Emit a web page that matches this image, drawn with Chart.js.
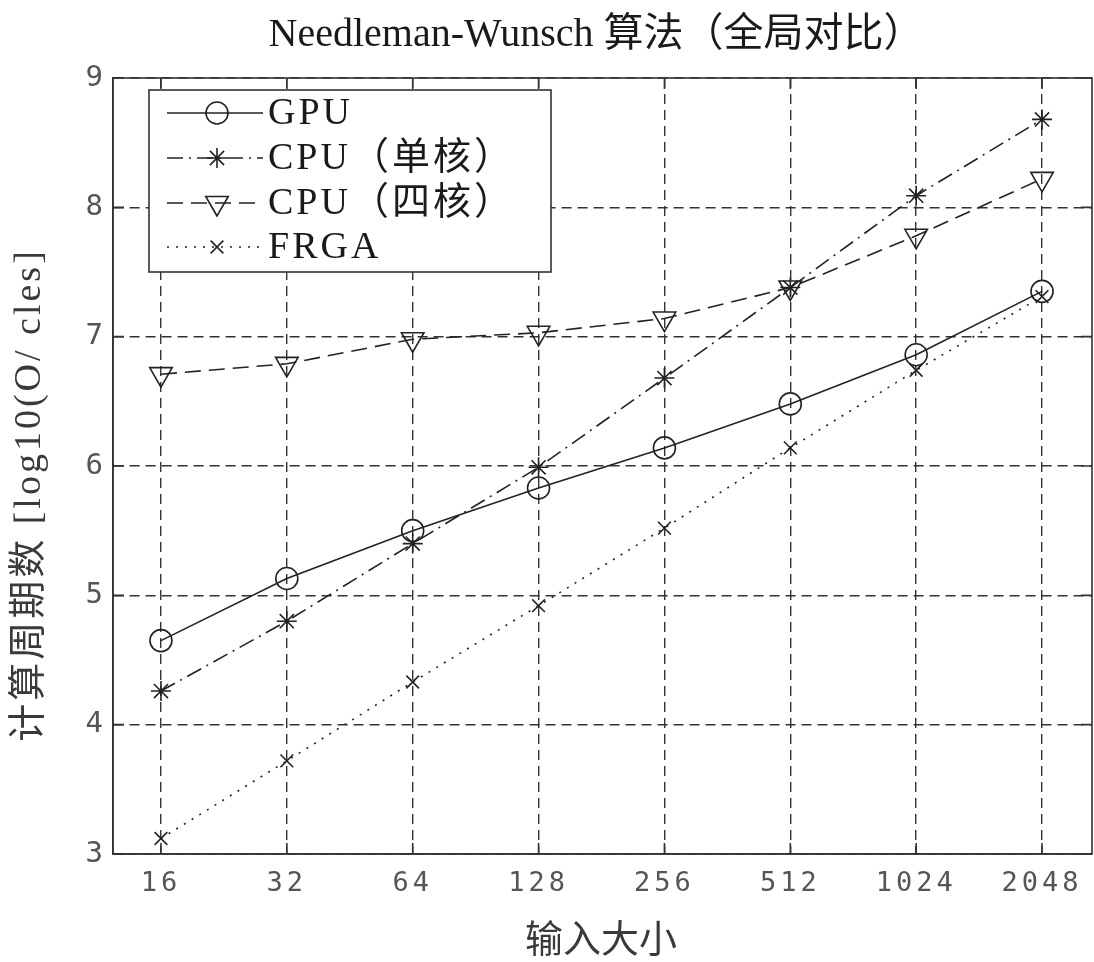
<!DOCTYPE html>
<html>
<head>
<meta charset="utf-8">
<script src="https://cdn.jsdelivr.net/npm/chart.js@4/dist/chart.umd.min.js"></script>
<style>
  html, body { margin: 0; padding: 0; background: #fff; overflow: hidden; }
  #c { display: block; }
</style>
</head>
<body>
<canvas id="c" width="1094" height="962"></canvas>
<script>
// ---- data ----
const categories = ['16', '32', '64', '128', '256', '512', '1024', '2048'];
const gpu      = [4.65, 5.13, 5.50, 5.83, 6.14, 6.48, 6.86, 7.35];
const cpuSingle = [4.26, 4.80, 5.40, 5.99, 6.68, 7.38, 8.09, 8.68];
const cpuQuad  = [6.71, 6.79, 6.98, 7.03, 7.14, 7.38, 7.78, 8.22];
const frga     = [3.12, 3.72, 4.33, 4.92, 5.52, 6.14, 6.74, 7.31];
const seriesNames = ['GPU', 'CPU（单核）', 'CPU（四核）', 'FRGA'];
const yTicks = [3, 4, 5, 6, 7, 8, 9];
const titleText = 'Needleman-Wunsch 算法（全局对比）';
const xTitle = '输入大小';
const yTitle = '计算周期数 [log10(O/ cles]';

const INK = '#222';
const toXY = arr => arr.map((v, i) => ({ x: i, y: v }));

const styles = [
  { pointStyle: 'circle', radius: 11, dash: [], rotation: 0 },
  { pointStyle: 'star', radius: 10, dash: [16, 6, 2, 6], rotation: 0 },
  { pointStyle: 'triangle', radius: 13, dash: [16, 8], rotation: 180 },
  { pointStyle: 'crossRot', radius: 9, dash: [2, 7], rotation: 0 }
];
const seriesData = [gpu, cpuSingle, cpuQuad, frga];

const datasets = seriesData.map((d, i) => ({
  label: seriesNames[i],
  data: toXY(d),
  borderColor: INK,
  backgroundColor: 'rgba(0,0,0,0)',
  borderWidth: 1.6,
  borderDash: styles[i].dash,
  pointStyle: styles[i].pointStyle,
  pointRadius: styles[i].radius,
  pointRotation: styles[i].rotation,
  pointBorderWidth: 1.6,
  pointBorderColor: INK,
  pointBackgroundColor: 'rgba(0,0,0,0)',
  tension: 0
}));

const noPad = () => ({ left: 0, top: 0, right: 0, bottom: 0 });

const decor = {
  id: 'decor',
  beforeDraw(chart) {
    chart.ctx.letterSpacing = '4px';
  },
  beforeDatasetsDraw(chart) {
    chart.ctx.letterSpacing = '0px';
  },
  afterDraw(chart) {
    const ctx = chart.ctx;
    const a = chart.chartArea;
    const xs = chart.scales.x, ys = chart.scales.y;
    ctx.save();
    ctx.letterSpacing = '0px';
    // frame
    ctx.strokeStyle = '#333';
    ctx.lineWidth = 1.6;
    ctx.setLineDash([]);
    ctx.strokeRect(a.left, a.top, a.right - a.left, a.bottom - a.top);
    // inward ticks
    const tl = 11;
    ctx.beginPath();
    for (let i = 0; i < categories.length; i++) {
      const x = xs.getPixelForValue(i);
      ctx.moveTo(x, a.bottom); ctx.lineTo(x, a.bottom - tl);
      ctx.moveTo(x, a.top); ctx.lineTo(x, a.top + tl);
    }
    for (const v of yTicks) {
      const y = ys.getPixelForValue(v);
      ctx.moveTo(a.left, y); ctx.lineTo(a.left + tl, y);
      ctx.moveTo(a.right, y); ctx.lineTo(a.right - tl, y);
    }
    ctx.stroke();

    // title
    ctx.fillStyle = '#1a1a1a';
    ctx.font = "40px 'Liberation Serif', 'Noto Sans CJK SC'";
    ctx.textAlign = 'center';
    ctx.textBaseline = 'alphabetic';
    ctx.fillText(titleText, 596, 46);

    // x title
    ctx.fillStyle = '#3a3a3a';
    ctx.font = "38px 'Noto Sans CJK SC'";
    ctx.textBaseline = 'middle';
    ctx.fillText(xTitle, 601, 938);

    // y title
    ctx.save();
    ctx.translate(30, 495);
    ctx.rotate(-Math.PI / 2);
    ctx.letterSpacing = '3px';
    ctx.font = "38px 'Liberation Serif', 'Noto Sans CJK SC'";
    ctx.fillText(yTitle, 0, 0);
    ctx.restore();

    // legend
    const lx = 149, ly = 90, lw = 402, lh = 182;
    ctx.fillStyle = '#fff';
    ctx.fillRect(lx, ly, lw, lh);
    ctx.strokeStyle = '#333';
    ctx.lineWidth = 1.6;
    ctx.strokeRect(lx, ly, lw, lh);
    const rowY = [113, 158, 203, 247];
    chart.data.datasets.forEach((ds, i) => {
      const y = rowY[i];
      ctx.save();
      ctx.strokeStyle = INK;
      ctx.fillStyle = 'rgba(0,0,0,0)';
      ctx.lineWidth = 1.6;
      ctx.setLineDash(ds.borderDash);
      ctx.beginPath();
      ctx.moveTo(167, y); ctx.lineTo(263, y);
      ctx.stroke();
      ctx.setLineDash([]);
      if (Chart.helpers && Chart.helpers.drawPoint) {
        Chart.helpers.drawPoint(ctx, {
          pointStyle: ds.pointStyle, radius: ds.pointRadius,
          rotation: ds.pointRotation, borderWidth: 1.6
        }, 217, y);
      }
      ctx.restore();
      ctx.save();
      ctx.letterSpacing = '3px';
      ctx.fillStyle = '#1a1a1a';
      ctx.font = "38px 'Liberation Serif', 'Noto Sans CJK SC'";
      ctx.textAlign = 'left';
      ctx.textBaseline = 'middle';
      ctx.fillText(ds.label, 268, y + 1);
      ctx.restore();
    });
    ctx.restore();
  }
};

new Chart(document.getElementById('c'), {
  type: 'line',
  data: { datasets },
  options: {
    responsive: false,
    animation: false,
    layout: { autoPadding: false, padding: { top: 78, right: 2, left: 0, bottom: 0 } },
    plugins: { legend: { display: false }, tooltip: { enabled: false }, title: { display: false } },
    scales: {
      x: {
        type: 'linear',
        min: -0.381,
        max: 7.397,
        afterBuildTicks(scale) { scale.ticks = categories.map((c, i) => ({ value: i })); },
        afterFit(scale) {
          scale.height = 108;
          scale.paddingLeft = 0; scale.paddingRight = 0;
          scale.getPadding = noPad;
        },
        ticks: {
          autoSkip: false, maxRotation: 0, minRotation: 0,
          padding: 14,
          color: '#555',
          font: { family: "'DejaVu Sans Mono'", size: 27 },
          callback: (v) => categories[v]
        },
        grid: { color: '#333', lineWidth: 1.4, drawTicks: false },
        border: { display: true, color: '#333', width: 1.6, dash: [10, 6] }
      },
      y: {
        min: 3, max: 9,
        afterBuildTicks(scale) { scale.ticks = yTicks.map(v => ({ value: v })); },
        afterFit(scale) {
          scale.width = 113;
          scale.paddingTop = 0; scale.paddingBottom = 0;
          scale.getPadding = noPad;
        },
        ticks: {
          padding: 6,
          color: '#555',
          font: { family: "'DejaVu Sans Mono'", size: 29 },
          callback: (v) => String(v)
        },
        grid: { color: '#333', lineWidth: 1.4, drawTicks: false },
        border: { display: true, color: '#333', width: 1.6, dash: [10, 6] }
      }
    }
  },
  plugins: [decor]
});
</script>
</body>
</html>
